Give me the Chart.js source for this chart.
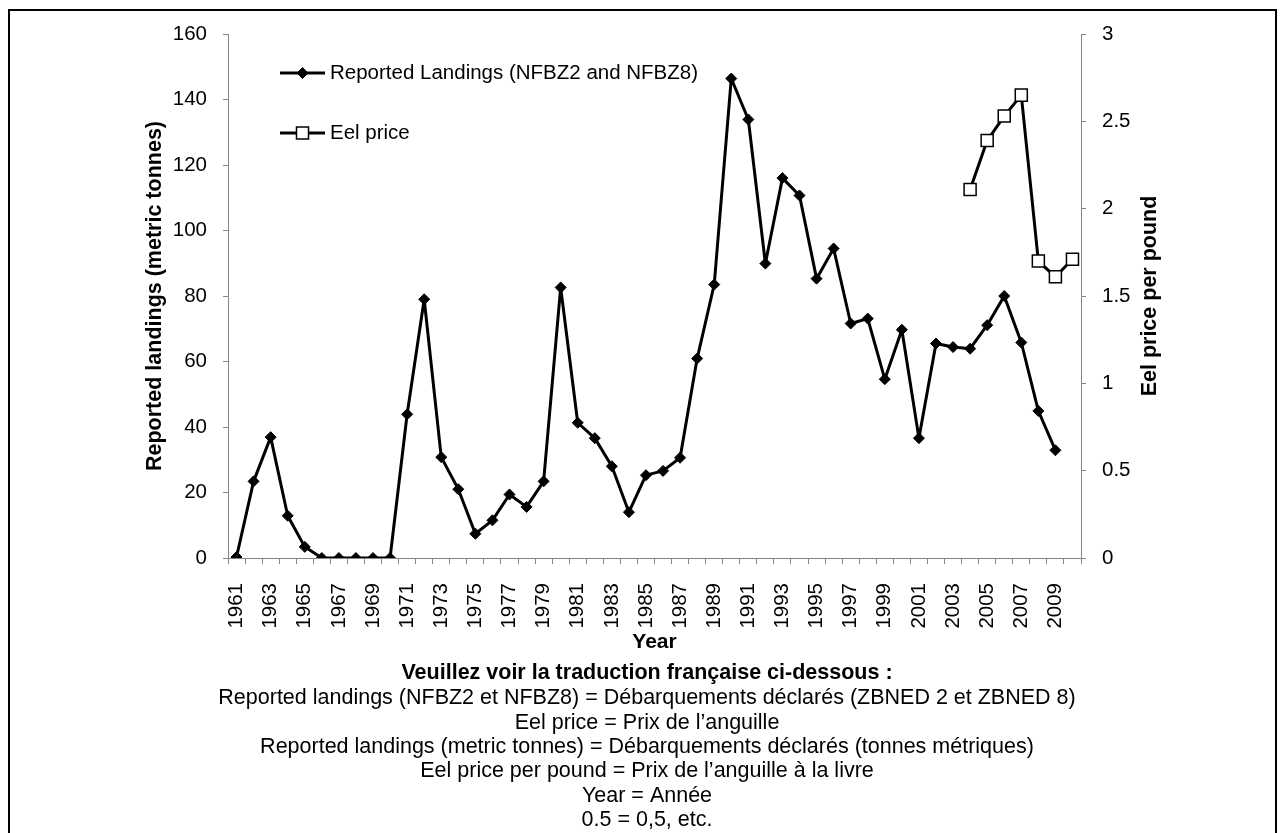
<!DOCTYPE html>
<html>
<head>
<meta charset="utf-8">
<title>Eel landings and price</title>
<script src="https://cdn.jsdelivr.net/npm/chart.js"></script>
<style>
  html, body { margin: 0; padding: 0; background: #fff; }
  body { width: 1285px; height: 833px; overflow: hidden; position: relative; }
  #frame { position: absolute; left: 8px; top: 9px; width: 1265px; height: 900px; border: 2px solid #000; }
  #myChart { position: absolute; left: 0; top: 0; }
</style>
</head>
<body>
<div id="frame"></div>
<canvas id="myChart" width="1285" height="833"></canvas>
<script>
const years = [
    '1961', '1962', '1963', '1964', '1965', '1966', '1967', '1968', '1969', '1970',
    '1971', '1972', '1973', '1974', '1975', '1976', '1977', '1978', '1979', '1980',
    '1981', '1982', '1983', '1984', '1985', '1986', '1987', '1988', '1989', '1990',
    '1991', '1992', '1993', '1994', '1995', '1996', '1997', '1998', '1999', '2000',
    '2001', '2002', '2003', '2004', '2005', '2006', '2007', '2008', '2009', '2010'
];

// metric tonnes, 1961 - 2009
const landings = [
    0.3, 23.4, 36.9, 12.9, 3.4, 0, 0, 0, 0, 0,
    43.9, 79.0, 30.8, 21.0, 7.4, 11.5, 19.4, 15.6, 23.4, 82.6,
    41.3, 36.6, 28.0, 14.0, 25.3, 26.6, 30.6, 60.9, 83.5, 146.4,
    133.9, 89.9, 116.0, 110.7, 85.3, 94.5, 71.6, 73.1, 54.6, 69.7,
    36.6, 65.5, 64.4, 63.9, 71.1, 80.0, 65.8, 44.9, 32.9
];

// price per pound, only known from 2004
const priceYears = ['2004', '2005', '2006', '2007', '2008', '2009', '2010'];
const priceValues = [2.11, 2.39, 2.53, 2.65, 1.70, 1.61, 1.71];

const priceTicks = ['0', '0.5', '1', '1.5', '2', '2.5', '3'];

const noteTitle = 'Veuillez voir la traduction française ci-dessous :';
const noteLines = [
    'Reported landings (NFBZ2 et NFBZ8) = Débarquements déclarés (ZBNED 2 et ZBNED 8)',
    'Eel price = Prix de l\u2019anguille',
    'Reported landings (metric tonnes) = Débarquements déclarés (tonnes métriques)',
    'Eel price per pound = Prix de l\u2019anguille à la livre',
    'Year = Année',
    '0.5 = 0,5, etc.'
];

const fontFamily = "'Liberation Sans', Arial, sans-serif";
const axisGrey = '#868686';

Chart.defaults.font.family = fontFamily;
Chart.defaults.font.size = 20.5;
Chart.defaults.color = '#000';

const priceData = priceYears.map((year, i) => ({ x: year, y: priceValues[i] }));

// legend sits inside the plot, like the excel one
const legendItems = [
    { dataset: 0, dy: 39 },
    { dataset: 1, dy: 99 }
];

function drawMarker(ctx, ds, x, y) {
    const r = ds.pointRadius;
    ctx.beginPath();
    if (ds.pointStyle === 'rectRot') {
        ctx.moveTo(x, y - r);
        ctx.lineTo(x + r, y);
        ctx.lineTo(x, y + r);
        ctx.lineTo(x - r, y);
    } else {
        const half = r * Math.SQRT1_2;
        ctx.rect(x - half, y - half, half * 2, half * 2);
    }
    ctx.closePath();
    ctx.fillStyle = ds.backgroundColor;
    ctx.fill();
    ctx.lineWidth = ds.pointBorderWidth;
    ctx.strokeStyle = ds.borderColor;
    ctx.stroke();
}

const extras = {
    id: 'extras',
    afterDraw(chart) {
        const { ctx, chartArea } = chart;
        ctx.save();

        legendItems.forEach((item) => {
            const ds = chart.data.datasets[item.dataset];
            const x0 = chartArea.left + 52;
            const y = chartArea.top + item.dy;
            ctx.strokeStyle = ds.borderColor;
            ctx.lineWidth = ds.borderWidth;
            ctx.beginPath();
            ctx.moveTo(x0, y);
            ctx.lineTo(x0 + 45, y);
            ctx.stroke();
            drawMarker(ctx, ds, x0 + 22.5, y);
            ctx.fillStyle = '#000';
            ctx.font = '20.5px ' + fontFamily;
            ctx.textAlign = 'left';
            ctx.textBaseline = 'middle';
            ctx.fillText(ds.label, x0 + 50, y);
        });

        // right axis title reads bottom to top, same as the left one
        const y1 = chart.scales.y1;
        ctx.translate(y1.left + 69, (chartArea.top + chartArea.bottom) / 2);
        ctx.rotate(-Math.PI / 2);
        ctx.font = 'bold 21.5px ' + fontFamily;
        ctx.textAlign = 'center';
        ctx.textBaseline = 'middle';
        ctx.fillStyle = '#000';
        ctx.fillText('Eel price per pound', 0, 0);

        ctx.restore();
    }
};

const ctx = document.getElementById('myChart');
const myChart = new Chart(ctx, {
    type: 'line',
    data: {
        labels: years,
        datasets: [{
            label: 'Reported Landings (NFBZ2 and NFBZ8)',
            data: landings,
            yAxisID: 'y',
            borderColor: '#000',
            backgroundColor: '#000',
            borderWidth: 3,
            borderJoinStyle: 'round',
            pointStyle: 'rectRot',
            pointRadius: 5.5,
            pointBorderWidth: 1,
            tension: 0
        }, {
            label: 'Eel price',
            data: priceData,
            yAxisID: 'y1',
            borderColor: '#000',
            backgroundColor: '#fff',
            borderWidth: 3,
            borderJoinStyle: 'round',
            pointStyle: 'rect',
            pointRadius: 8.5,
            pointBorderWidth: 1.5,
            tension: 0
        }]
    },
    options: {
        responsive: false,
        animation: false,
        layout: {
            padding: { top: 34, left: 9, right: 0, bottom: 0 }
        },
        plugins: {
            legend: { display: false },
            tooltip: { enabled: false },
            subtitle: {
                display: true,
                position: 'bottom',
                text: noteTitle,
                color: '#000',
                font: { size: 21.5, weight: 'bold', lineHeight: '24px' },
                padding: { top: 6, bottom: 0 }
            },
            title: {
                display: true,
                position: 'bottom',
                text: noteLines,
                color: '#000',
                font: { size: 21.5, weight: 'normal', lineHeight: '24.4px' },
                padding: { top: 1, bottom: 0.6 }
            }
        },
        scales: {
            x: {
                type: 'category',
                offset: true,
                grid: { offset: true, drawOnChartArea: false, tickLength: 6, color: axisGrey },
                border: { color: axisGrey, width: 1 },
                ticks: {
                    autoSkip: false,
                    maxRotation: 90,
                    minRotation: 90,
                    padding: 19,
                    callback: function (value, index) {
                        return index % 2 === 0 ? this.getLabelForValue(value) : '';
                    }
                },
                title: {
                    display: true,
                    text: 'Year',
                    font: { size: 21, weight: 'bold' },
                    padding: { top: 0, bottom: 0 }
                },
                afterFit: (scale) => { scale.height = 97; }
            },
            y: {
                position: 'left',
                min: 0,
                max: 160,
                ticks: { stepSize: 20, padding: 16 },
                grid: { drawOnChartArea: false, tickLength: 5, color: axisGrey },
                border: { color: axisGrey, width: 1 },
                title: {
                    display: true,
                    text: 'Reported landings (metric tonnes)',
                    font: { size: 21.5, weight: 'bold' },
                    padding: { top: 133, bottom: 0 }
                },
                afterFit: (scale) => { scale.width = 219; }
            },
            y1: {
                position: 'right',
                min: 0,
                max: 3,
                ticks: {
                    stepSize: 0.5,
                    padding: 16,
                    callback: (value, index) => priceTicks[index]
                },
                grid: { drawOnChartArea: false, tickLength: 5, color: axisGrey },
                border: { color: axisGrey, width: 1 },
                afterFit: (scale) => { scale.width = 204; }
            }
        }
    },
    plugins: [extras]
});
</script>
</body>
</html>
